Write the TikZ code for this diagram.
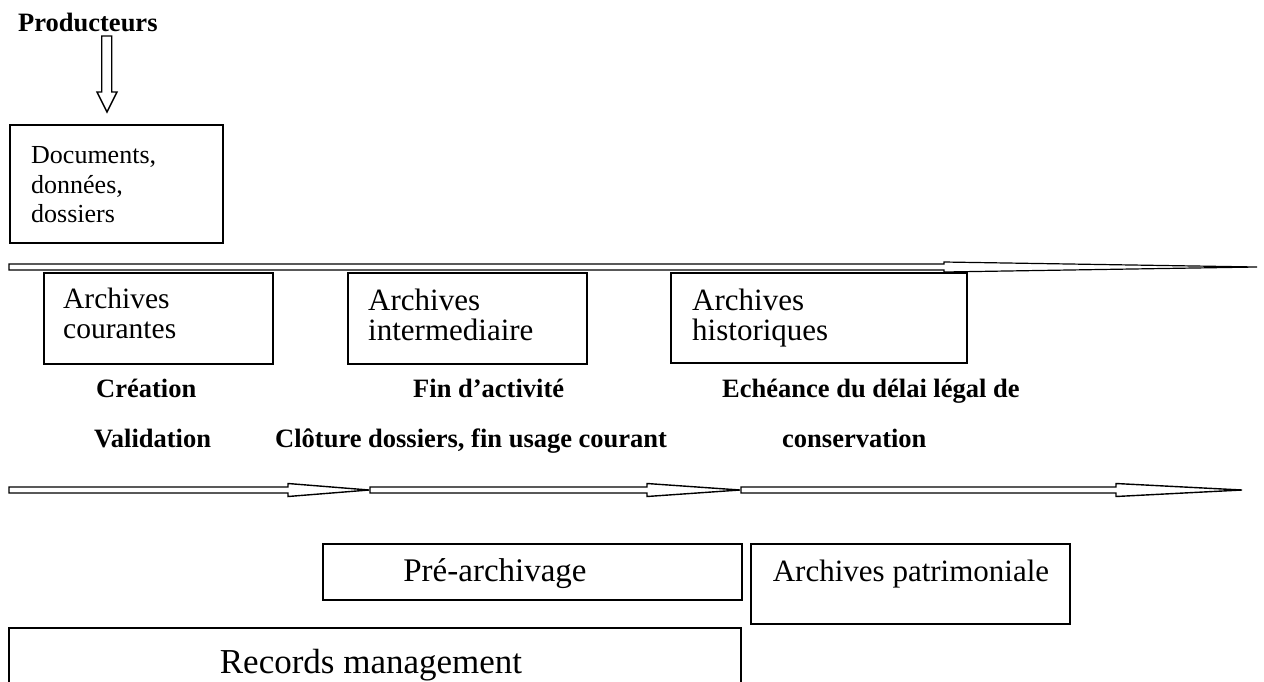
\documentclass[tikz,border=0pt]{standalone}
\usepackage{fontspec}
\setmainfont{Liberation Serif}
\begin{document}
\begin{tikzpicture}[x=1pt,y=-1pt,
  box/.style={draw, line width=1.5pt, inner sep=0pt, anchor=north west},
  blk/.style={draw, line width=1.4pt, fill=white, line join=miter},
  lbl/.style={anchor=base west, inner sep=0pt},
  bsz/.style={font=\fontsize{26.5}{30}\selectfont\bfseries},
  rsz/.style={font=\fontsize{26}{30}\selectfont}]
\useasboundingbox (0,0) rectangle (1264,681);

% Producteurs
\node[lbl,bsz] (prod) at (18,31) {Producteurs};
\draw[blk] (101.7,36) -- (111.7,36) -- (111.7,92) -- (117,92) -- (107,112) -- (97,92) -- (101.7,92) -- cycle;

% Documents box
\node[box, minimum width=213pt, minimum height=118pt] (docs) at (9,124) {};
\node[lbl,rsz] (d1) at (31,163) {Documents,};
\node[lbl,rsz] (d2) at (31,193) {données,};
\node[lbl,rsz] (d3) at (31,222) {dossiers};

% long top arrow
\draw[blk, line width=1.2pt] (9,264) -- (944,264) -- (944,262) -- (1257,267) -- (944,272) -- (944,270) -- (9,270) -- cycle;

% Archive boxes
\node[box, minimum width=229pt, minimum height=91pt] (ac) at (43,272) {};
\node[lbl, font=\fontsize{29.5}{30}\selectfont] (ac1) at (63,308) {Archives};
\node[lbl, font=\fontsize{29.5}{30}\selectfont] (ac2) at (63,338) {courantes};

\node[box, minimum width=239pt, minimum height=91pt] (ai) at (347,272) {};
\node[lbl, font=\fontsize{31}{30}\selectfont] (ai1) at (368,310) {Archives};
\node[lbl, font=\fontsize{31}{30}\selectfont] (ai2) at (368,340) {intermediaire};

\node[box, minimum width=296pt, minimum height=90pt] (ah) at (670,272) {};
\node[lbl, font=\fontsize{31}{30}\selectfont] (ah1) at (692,310) {Archives};
\node[lbl, font=\fontsize{31}{30}\selectfont] (ah2) at (692,340) {historiques};

% bold labels
\node[lbl,bsz] (cr) at (96,397) {Création};
\node[lbl,bsz] (va) at (94,447) {Validation};
\node[lbl,bsz] (fa) at (413,397) {Fin d’activité};
\node[lbl,bsz] (cl) at (275,447) {Clôture dossiers, fin usage courant};
\node[lbl,bsz] (ec) at (722,397) {Echéance du délai légal de};
\node[lbl,bsz] (co) at (782,447) {conservation};

% lower arrows
\draw[blk] (9,487) -- (288,487) -- (288,483.5) -- (369,490) -- (288,496.5) -- (288,493) -- (9,493) -- cycle;
\draw[blk] (370,487) -- (647,487) -- (647,483.5) -- (740,490) -- (647,496.5) -- (647,493) -- (370,493) -- cycle;
\draw[blk] (741,487) -- (1116,487) -- (1116,483.5) -- (1242,490) -- (1116,496.5) -- (1116,493) -- (741,493) -- cycle;

% lower boxes
\node[box, minimum width=419pt, minimum height=56pt] (pa) at (322,543) {};
\node[font=\fontsize{33}{30}\selectfont, inner sep=0pt, anchor=base] (pat) at (495,581) {Pré-archivage};
\node[box, minimum width=319pt, minimum height=80pt] (ap) at (750,543) {};
\node[font=\fontsize{31}{30}\selectfont, inner sep=0pt, anchor=base] (apt) at (911,581) {Archives patrimoniale};

% records management (cut at bottom)
\coordinate (rmbl) at (9,685);
\coordinate (rmbr) at (741,685);
\draw[line width=1.5pt] (rmbl) |- (741,628) -- (rmbr);
\node[font=\fontsize{35}{30}\selectfont, inner sep=0pt, anchor=base] (rmt) at (371,673) {Records management};
\end{tikzpicture}
\end{document}
